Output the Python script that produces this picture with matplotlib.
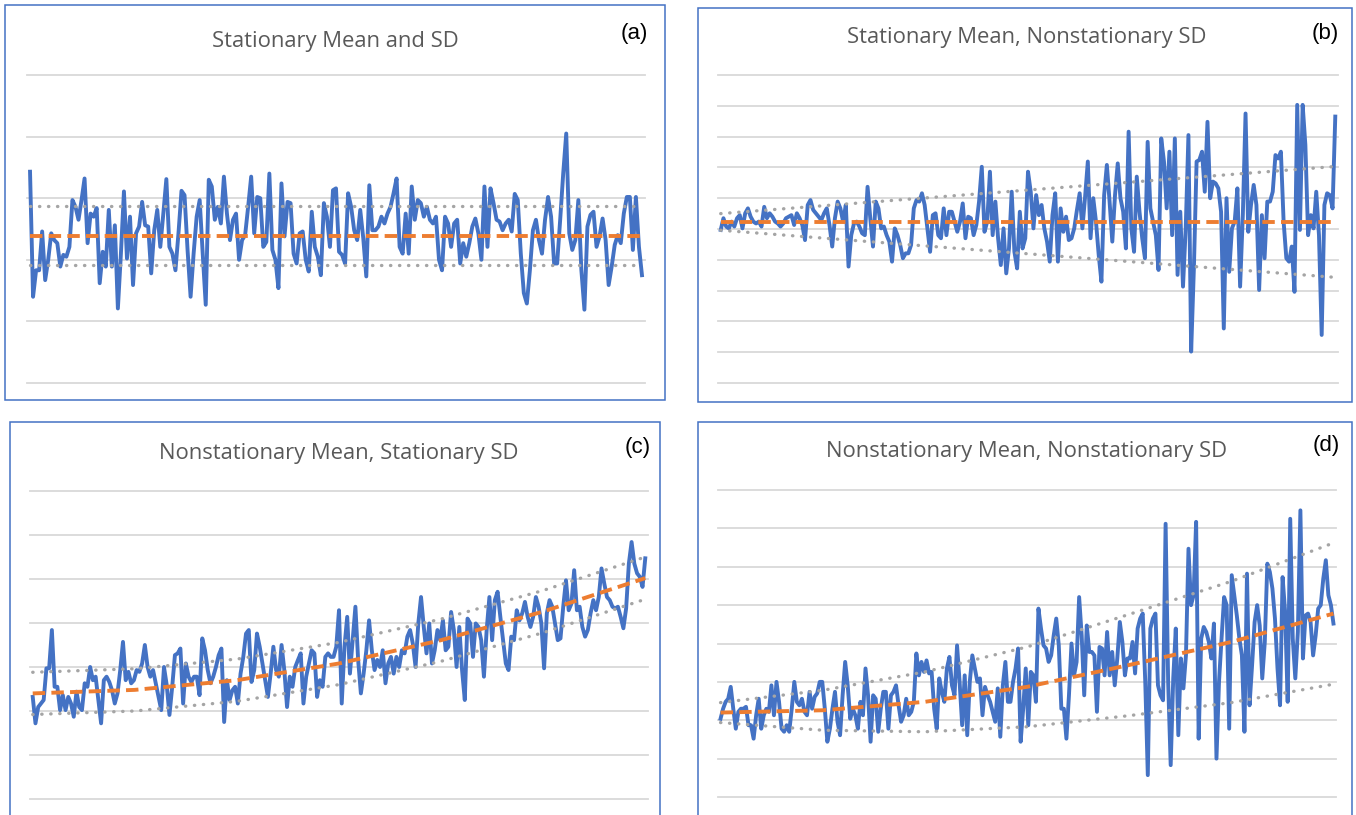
import numpy as np
import matplotlib
matplotlib.use("Agg")
import matplotlib.pyplot as plt
from matplotlib.patches import Rectangle

# ---- data (grid units, bottom gridline = 0) ----
# (a) stationary mean and SD
a_vals = [3.43, 1.40, 1.83, 1.83, 2.46, 1.67, 2.00, 2.43, 2.32, 2.27, 1.89, 2.08, 2.05, 2.21, 2.97, 2.86, 2.65, 2.97,
          3.32, 2.27, 2.75, 2.70, 2.84, 1.62, 2.13, 1.89, 2.81, 1.89, 2.56, 1.21, 2.10, 3.11, 2.02, 2.70, 1.59, 2.43,
          2.54, 2.94, 2.56, 2.54, 1.78, 2.48, 2.81, 2.21, 2.75, 3.31, 2.21, 2.10, 1.83, 2.43, 3.12, 3.05, 2.16, 1.40,
          2.10, 2.70, 2.97, 2.10, 1.27, 3.30, 3.19, 2.65, 2.86, 2.59, 3.35, 2.75, 2.32, 2.65,
          2.75, 2.00, 2.32, 2.40, 2.86, 3.35, 2.43, 3.02, 3.00, 2.21, 2.29, 3.40, 2.16, 2.00, 1.54, 3.24, 2.38, 2.94,
          2.92, 2.10, 1.94, 2.43, 2.46, 2.00, 1.81, 2.78, 2.21, 2.05, 1.75, 2.92, 2.70, 2.21, 3.13, 3.16, 2.13, 2.08,
          1.94, 3.08, 2.86, 2.48, 2.32, 2.81, 2.35, 1.73, 3.21, 2.48, 2.48, 2.54, 2.70, 2.59, 2.75, 2.86, 3.08, 3.32,
          2.21, 2.10, 2.75, 2.10, 3.19, 2.65, 2.97, 2.92, 2.70, 2.86, 2.65, 2.59, 2.70, 2.00,
          1.83, 2.70, 2.59, 2.21, 2.59, 2.65, 1.94, 2.27, 2.05, 2.27, 2.54, 2.67, 2.43, 2.00, 3.19, 2.21, 3.16, 2.92,
          2.65, 2.62, 2.48, 2.59, 2.65, 2.46, 3.07, 2.97, 2.10, 1.46, 1.29, 1.83, 2.48, 2.65, 2.32, 2.10, 2.65, 3.02,
          2.70, 1.94, 1.94, 2.65, 3.40, 4.05, 2.43, 2.16, 2.32, 2.97, 1.83, 1.19, 2.54, 2.73, 2.78, 2.21, 2.38, 2.67,
          2.32, 1.59, 1.89, 2.24, 2.40, 2.27, 2.75, 3.02, 3.02, 2.16, 3.02, 2.21, 1.75]
a_mean = [2.39, 2.39]
a_sd = [0.48, 0.48]

# (b) stationary mean, nonstationary SD
b_vals = [4.97, 5.35, 5.08, 5.02, 5.24, 5.08, 5.35, 5.45, 5.02, 5.51, 5.67, 5.40, 5.24, 5.18, 5.24, 5.08, 5.72, 5.35,
          5.51, 5.40, 5.24, 5.18, 5.08, 5.18, 5.35, 5.40, 5.45, 5.13, 5.51, 5.35, 5.13, 4.64, 5.78, 5.94, 5.62, 5.51,
          5.40, 5.29, 5.51, 5.67, 5.13, 4.43, 5.35, 5.89, 5.67, 5.24, 5.78, 3.78, 4.80, 5.18, 5.24, 5.08, 4.86, 4.80,
          6.37, 5.35, 4.43, 5.89, 5.67, 5.02, 5.08, 4.80, 4.59, 3.94, 5.02, 4.80, 4.48, 4.05, 4.21, 4.21, 4.48, 5.67,
          5.94, 5.89, 6.16, 5.78, 5.02, 4.26, 5.45, 5.51, 4.80,
          4.70, 5.67, 4.80, 5.56, 5.56, 5.24, 4.91, 5.24, 5.83, 4.70, 5.40, 5.35, 4.80, 5.13, 5.89, 7.02, 4.91, 5.24,
          6.86, 4.80, 5.89, 4.70, 3.83, 5.02, 3.56, 4.37, 6.21, 4.26, 3.72, 5.56, 4.37, 4.70, 6.86, 6.21, 5.02, 6.10,
          5.45, 5.78, 5.02, 4.59, 3.94, 5.45, 6.16, 3.94, 5.67, 4.91, 5.40, 4.64, 4.70, 5.02, 5.62, 6.16, 5.02, 6.05,
          7.19, 4.70, 6.00, 5.24, 4.16, 3.29, 6.10, 7.08, 5.89, 4.59, 6.10, 7.13, 6.00, 5.56, 4.37, 8.16, 5.02, 4.26,
          6.70, 5.56, 4.70, 4.05, 7.83,
          5.67, 5.24, 4.80, 3.67, 7.94, 7.19, 5.67, 7.51, 4.80, 7.94, 3.51, 5.56, 3.13, 5.02, 8.05, 1.02, 3.72, 7.19,
          7.24, 7.51, 6.21, 8.48, 6.00, 6.54, 6.48, 6.32, 5.56, 1.77, 6.00, 3.61, 5.02, 5.24, 6.32, 3.13, 5.45, 8.75,
          4.91, 5.78, 6.43, 5.78, 3.02, 5.45, 4.05, 5.89, 5.89, 6.21, 7.40, 7.29, 7.51, 5.24, 4.05, 3.94, 4.43, 2.96,
          9.03, 4.97, 9.03, 7.73, 4.80, 5.45, 5.02, 6.21, 4.80, 1.56, 5.78, 6.16, 6.10, 5.67, 8.65]
b_mean = [5.23, 5.23]
b_sd = [0.27, 1.80]

# (c) nonstationary mean, stationary SD
c_vals = [2.32, 1.72, 2.09, 2.17, 2.25, 2.97, 2.97, 3.84, 2.55, 2.55, 2.02, 2.36, 2.02, 2.32, 2.17, 1.87, 2.44, 2.09,
          2.02, 2.63, 2.55, 3.00, 2.70, 2.78, 2.25, 1.72, 2.70, 2.78, 2.66, 2.47, 2.17, 2.40, 2.93, 3.57, 2.70, 2.89,
          2.63, 2.70, 2.93, 2.89, 3.08, 3.50, 3.00, 2.78, 2.93, 2.63, 2.32, 2.02, 3.00, 2.59, 1.91, 2.55, 3.27, 3.31,
          3.42, 2.17, 3.08, 2.78, 2.66, 2.78, 2.78, 2.36, 3.65, 3.38, 2.93, 2.63, 2.78, 3.00, 3.27, 3.42, 1.75, 2.70,
          2.25, 2.47, 2.55, 2.17, 2.85, 3.23, 3.76, 3.84, 2.66, 2.93, 3.76, 3.46, 3.08, 2.70, 2.32, 2.85, 3.46, 2.93,
          2.78, 3.50, 2.93, 2.09, 2.78, 2.55, 3.00, 3.16, 3.31, 2.17, 2.78, 3.08, 3.38, 3.31, 2.32, 2.70, 2.55, 3.23,
          3.31, 3.23, 3.23, 3.46, 4.29, 2.17, 3.46, 4.14, 2.85, 3.61, 4.37, 3.16, 2.40, 2.85, 3.38, 4.06, 3.38, 2.93,
          3.16, 3.00, 3.38, 2.63, 3.08, 3.23, 2.85, 3.23, 3.00, 3.38, 3.31, 3.69, 3.84, 3.53, 3.00, 3.99, 4.59, 3.91,
          3.31, 3.99, 3.08, 3.38, 3.84,
          3.61, 4.06, 3.38, 3.46, 4.25, 3.84, 3.00, 3.91, 2.93, 2.25, 4.10, 3.99, 3.23, 3.99, 3.91, 3.61, 2.78, 3.84,
          4.59, 3.61, 4.52, 4.71, 4.14, 3.61, 3.08, 2.93, 3.69, 3.61, 4.29, 4.06, 4.22, 4.48, 4.14, 3.91, 4.14, 4.59,
          4.37, 3.99, 2.97, 4.22, 4.52, 4.37, 3.99, 3.61, 3.65, 4.37, 4.97, 4.29, 4.44, 5.20, 4.29, 4.37, 3.91, 3.69,
          3.84, 4.22, 4.52, 4.29, 4.59, 5.24, 4.90, 4.59, 4.52, 4.37, 4.33, 4.37, 4.14, 3.88, 4.33, 5.35, 5.84, 5.35,
          5.13, 5.05, 4.82, 5.47]
c_mean = [2.40, 2.48, 2.70, 3.08, 3.61, 4.26, 5.02]
c_sd = [0.48, 0.48, 0.48, 0.48, 0.48, 0.48, 0.48]

# (d) nonstationary mean, nonstationary SD
d_vals = [2.04, 2.30, 2.48, 2.56, 2.87, 2.30, 1.78, 2.22, 2.30, 2.30, 2.35, 1.87, 1.87, 1.52, 2.13, 2.56, 1.78, 2.13,
          2.30, 2.22, 2.91, 2.13, 3.00, 2.48, 1.78, 1.70, 1.87, 1.70, 2.30, 3.00, 2.48, 2.39, 2.56, 2.22, 2.13, 2.74,
          2.30, 2.61, 2.70, 3.00, 3.00, 2.30, 1.44, 1.78, 2.30, 2.74, 1.96, 1.61, 2.65, 3.52, 2.91, 2.04, 2.30, 2.13,
          1.78, 2.48, 2.13, 3.35, 2.65, 1.44, 2.65, 2.56, 1.70, 2.30, 2.74, 2.74, 1.78, 2.65, 2.74, 2.91, 2.39, 1.96,
          2.13, 2.56, 2.13, 2.22, 2.48, 3.74, 3.17, 3.52,
          3.26, 3.56, 3.22, 3.26, 2.30, 1.78, 3.09, 2.74, 2.48, 3.35, 3.65, 2.91, 2.65, 3.95, 3.00, 1.87, 3.17, 1.61,
          3.00, 3.69, 3.35, 3.00, 3.09, 2.13, 2.87, 2.65, 2.48, 2.22, 1.96, 2.83, 1.57, 2.91, 3.52, 2.48, 2.48, 3.00,
          3.35, 3.87, 1.44, 2.30, 3.35, 1.87, 3.26, 3.17, 2.48, 4.91, 4.39, 3.95, 3.87, 3.52, 3.69, 4.21, 4.65, 3.95,
          2.30, 2.30, 1.52, 2.65, 4.00, 3.17, 3.52, 5.21, 4.21, 2.65, 4.47, 3.78, 3.78, 3.69, 2.22, 3.91, 3.87, 3.17,
          4.30, 3.17, 3.78, 2.91, 3.61, 4.56, 4.04, 3.17, 3.61, 3.61, 4.04,
          3.22, 4.39, 4.65, 4.78, 3.00, 0.57, 4.39, 4.65, 4.78, 2.91, 2.65, 2.52, 7.12, 3.00, 0.83, 3.09, 4.39, 1.61,
          3.61, 2.83, 3.69, 6.47, 5.00, 5.26, 7.17, 1.52, 4.13, 4.43, 4.30, 4.04, 3.61, 4.52, 1.00, 3.00, 4.13, 5.21,
          5.00, 1.78, 5.78, 5.26, 4.73, 4.13, 3.69, 1.70, 5.82, 2.39, 3.43, 4.56, 5.00, 4.47, 3.09, 4.04, 6.08, 5.86,
          5.43, 4.65, 3.35, 2.39, 5.73, 4.82, 2.48, 7.25, 4.13, 3.09, 4.30, 7.47, 3.61, 4.73, 4.78, 4.56, 3.69, 4.21,
          4.91, 5.00, 5.69, 6.17, 5.26, 5.00, 4.52]
d_mean = [2.20, 2.26, 2.48, 2.87, 3.44, 4.04, 4.78]
d_sd = [0.26, 0.52, 0.78, 1.04, 1.32, 1.58, 1.84]

titles = ["Stationary Mean and SD", "Stationary Mean, Nonstationary SD",
          "Nonstationary Mean, Stationary SD", "Nonstationary Mean, Nonstationary SD"]
letters = ["(a)", "(b)", "(c)", "(d)"]

BLUE = "#4472C4"
ORANGE = "#ED7D31"
DOTS = "#A5A5A5"
GRID = "#D9D9D9"

W, H = 1356, 815


def fig_rect(x0, y0, x1, y1):
    # pixel box (top-left origin) -> figure fraction rect
    return [x0 / W, 1 - y1 / H, (x1 - x0) / W, (y1 - y0) / H]


def draw_panel(fig, vals, mean, sd, n_grid, box, plot, title, title_xy, letter, letter_xy):
    # frame around the panel
    bx = fig_rect(*box)
    fig.add_artist(Rectangle((bx[0], bx[1]), bx[2], bx[3], transform=fig.transFigure,
                             fill=False, edgecolor=BLUE, linewidth=1.1))
    fig.text(title_xy[0] / W, 1 - title_xy[1] / H, title, ha="center", va="center",
             color="#595959", fontsize=15.8, family="Open Sans")
    fig.text(letter_xy[0] / W, 1 - letter_xy[1] / H, letter, ha="center", va="center",
             color="black", fontsize=16, family="Liberation Sans")

    ax = fig.add_axes(fig_rect(*plot))
    n = len(vals)
    x = np.arange(n)
    ax.set_xlim(-1, n)
    ax.set_ylim(0, n_grid)
    ax.axis("off")
    for g in range(n_grid + 1):
        ax.axhline(g, color=GRID, linewidth=1.3, zorder=0, clip_on=False)

    ax.plot(x, vals, color=BLUE, linewidth=2.8, solid_joinstyle="round", zorder=2)

    xk = np.linspace(0, n - 1, len(mean))
    mean = np.array(mean)
    sd = np.array(sd)
    for band in (mean + sd, mean - sd):
        ax.plot(xk, band, color=DOTS, linewidth=2.4, linestyle=(0, (0.1, 2.6)),
                dash_capstyle="round", zorder=3)
    ax.plot(xk, mean, color=ORANGE, linewidth=2.8, linestyle=(0, (3.2, 1.6)), zorder=4)


fig = plt.figure(figsize=(W / 100, H / 100), dpi=100)
fig.patch.set_facecolor("white")

draw_panel(fig, a_vals, a_mean, a_sd, 5, (5, 5, 665, 400), (27, 75, 645, 383),
           titles[0], (335, 42), letters[0], (634, 34))
draw_panel(fig, b_vals, b_mean, b_sd, 10, (698, 8, 1352, 402), (718, 75, 1338, 383),
           titles[1], (1027, 38), letters[1], (1325, 33))
draw_panel(fig, c_vals, c_mean, c_sd, 7, (10, 422, 660, 830), (30, 491, 648, 799),
           titles[2], (339, 454), letters[2], (638, 447))
draw_panel(fig, d_vals, d_mean, d_sd, 8, (698, 422, 1352, 830), (718, 490, 1336, 797),
           titles[3], (1027, 452), letters[3], (1326, 446))

fig.savefig("out.png", dpi=100)
